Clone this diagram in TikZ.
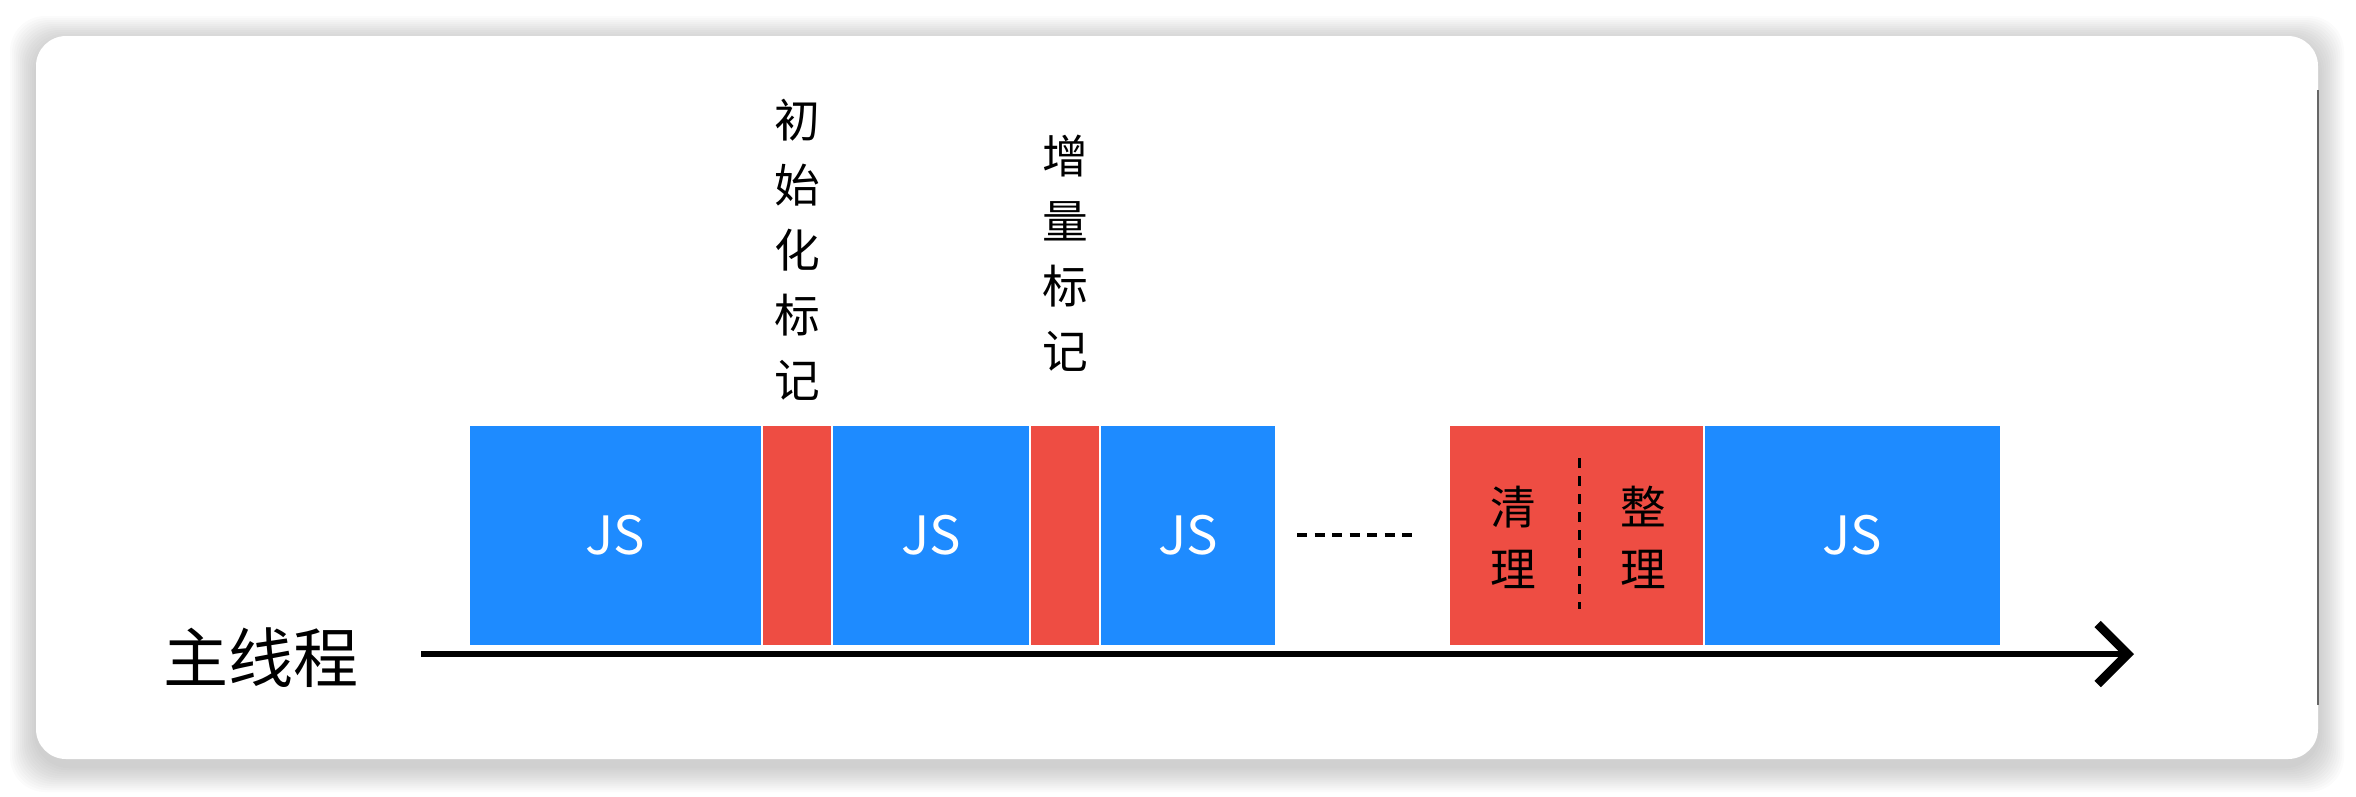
\documentclass[tikz,border=0pt]{standalone}
\usepackage{fontspec}
\newfontfamily\cjk{Noto Sans CJK SC}
\usetikzlibrary{arrows.meta}
\definecolor{jsblue}{RGB}{30,139,255}
\definecolor{gcred}{RGB}{238,77,67}
\tikzset{
  blk/.style={draw=white,line width=0.4pt,minimum height=22.1mm,inner sep=0pt,outer sep=0pt},
  jsbox/.style={blk,fill=jsblue,text=white,font=\cjk\fontsize{15}{15}\selectfont},
  mkbox/.style={blk,fill=gcred},
  vlabel/.style={align=center,inner sep=0pt,font=\cjk\fontsize{13}{18.5}\selectfont},
}
\begin{document}
\begin{tikzpicture}[x=0.01cm,y=-0.01cm]
\useasboundingbox (0,0) rectangle (2356,796);
% card with soft shadow
\foreach \i in {1,...,13}
  \fill[black,opacity=0.014,rounded corners=3.5mm] (36-2*\i,42-2*\i) rectangle (2318+2*\i,766+2*\i);
\fill[white,rounded corners=3mm] (36,36) rectangle (2318,759);
\draw[black!60,line width=0.5pt] (2318,90) -- (2318,705);
% blocks on the main thread
\node[jsbox,minimum width=29.3mm] (js1) at (615.5,535.5) {JS};
\node[mkbox,minimum width=7mm] (mk1) at (797,535.5) {};
\node[jsbox,minimum width=19.8mm] (js2) at (931,535.5) {JS};
\node[mkbox,minimum width=7mm] (mk2) at (1065,535.5) {};
\node[jsbox,minimum width=17.6mm] (js3) at (1188,535.5) {JS};
\node[mkbox,minimum width=25.5mm] (gc) at (1576.5,535.5) {};
\node[jsbox,minimum width=29.7mm] (js4) at (1852.5,535.5) {JS};
% labels
\node[vlabel] (init) at (797,250) {初\\始\\化\\标\\记};
\node[vlabel] (incr) at (1065,253) {增\\量\\标\\记};
\node[vlabel,font=\cjk\fontsize{13}{17.6}\selectfont] (clean) at (1513,537) {清\\理};
\node[vlabel,font=\cjk\fontsize{13}{17.6}\selectfont] (tidy) at (1643,537) {整\\理};
\node[inner sep=0pt,font=\cjk\fontsize{18.5}{18.5}\selectfont] (main) at (261,658) {主线程};
% dashes
\coordinate (dl) at (1297,535);
\coordinate (dr) at (1414,535);
\draw[line width=0.35mm,dash pattern=on 1mm off 0.75mm] (dl) -- (dr);
\coordinate (gt) at (1579,458);
\coordinate (gb) at (1579,609);
\draw[line width=0.3mm,dash pattern=on 1mm off 0.8mm] (gt) -- (gb);
% time line
\coordinate (tstart) at (421,654);
\coordinate (tend) at (2134,654);
\draw[line width=0.65mm,-{Straight Barb[length=3mm,width=6mm,line width=0.9mm]}] (tstart) -- (tend);
\end{tikzpicture}
\end{document}
